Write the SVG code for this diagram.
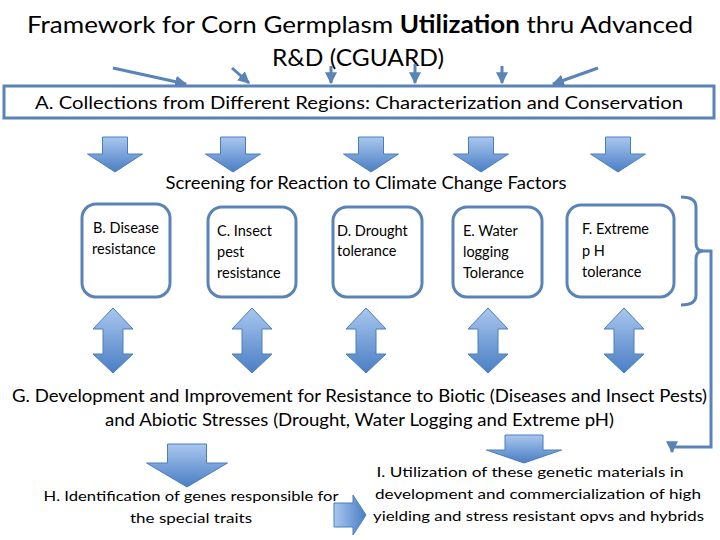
<svg xmlns="http://www.w3.org/2000/svg" width="720" height="540" viewBox="0 0 720 540">
<defs>
<linearGradient id="g" x1="0" y1="0" x2="0" y2="1">
<stop offset="0" stop-color="#a9c7ef"/>
<stop offset="1" stop-color="#4a7ec4"/>
</linearGradient>
<linearGradient id="gh" x1="0" y1="0" x2="1" y2="0">
<stop offset="0" stop-color="#a9c7ef"/>
<stop offset="1" stop-color="#4a7ec4"/>
</linearGradient>
<marker id="ah" viewBox="0 0 10 10" refX="9" refY="5" markerWidth="4" markerHeight="4" orient="auto" markerUnits="strokeWidth">
<path d="M0,0 L10,5 L0,10 Z" fill="#5a83b8"/>
</marker>
<path id="down" d="M-12.5,137 L12.5,137 L12.5,154 L27.5,154 L0,172 L-27.5,154 L-12.5,154 Z"/>
<path id="dbl" d="M0,308 L20,329 L10,329 L10,354 L20,354 L0,373 L-20,354 L-10,354 L-10,329 L-20,329 Z"/>
</defs>
<style>
text{font-family:Lato,"Open Sans","Liberation Sans",sans-serif;fill:#000}
.t{font-size:24px}
.a{font-size:18px}
.n{font-size:14.5px}
.g{font-size:17px}
.b{font-size:14px}
.box{fill:#fff;stroke:#5a83b8;stroke-width:3}
.con{fill:none;stroke:#5a83b8;stroke-width:3}
.blk{fill:url(#g);stroke:#4a7ebb;stroke-width:1}
</style>
<rect width="720" height="540" fill="#fff"/>

<g id="title">
<text class="t" x="360" y="33" text-anchor="middle" textLength="666" lengthAdjust="spacingAndGlyphs">Framework for Corn Germplasm <tspan font-weight="bold">Utilization</tspan> thru Advanced</text>
<text class="t" x="358" y="66" text-anchor="middle" textLength="172" lengthAdjust="spacingAndGlyphs">R&amp;D (CGUARD)</text>
</g>

<g id="connectors">
<line class="con" x1="113" y1="68" x2="186" y2="84" marker-end="url(#ah)"/>
<line class="con" x1="232" y1="68" x2="249" y2="83" marker-end="url(#ah)"/>
<line class="con" x1="331" y1="66" x2="331" y2="83" marker-end="url(#ah)"/>
<line class="con" x1="415" y1="64" x2="415" y2="83" marker-end="url(#ah)"/>
<line class="con" x1="502" y1="66" x2="502" y2="83" marker-end="url(#ah)"/>
<line class="con" x1="598" y1="68" x2="553" y2="84" marker-end="url(#ah)"/>
<path class="con" d="M681,197 Q696,197 696,207 L696,243 Q696,251 703,251 Q696,251 696,259 L696,295 Q696,305 681,305"/>
<path class="con" d="M699,251 L711,251 L711,447 L672,447 L672,452" marker-end="url(#ah)"/>
</g>

<g id="nodeA">
<rect class="box" x="4" y="86" width="710" height="32"/>
<text class="a" x="359" y="109" text-anchor="middle" textLength="648" lengthAdjust="spacingAndGlyphs">A. Collections from Different Regions: Characterization and Conservation</text>
</g>

<g id="downArrows">
<use href="#down" class="blk" x="115"/>
<use href="#down" class="blk" x="233"/>
<use href="#down" class="blk" x="371"/>
<use href="#down" class="blk" x="481"/>
<use href="#down" class="blk" x="618"/>
</g>

<g id="screening">
<text class="g" x="366" y="189" text-anchor="middle" textLength="401" lengthAdjust="spacingAndGlyphs">Screening for Reaction to Climate Change Factors</text>
</g>

<g id="nodeB">
<rect class="box" x="82" y="204" width="88" height="93" rx="14"/>
<text class="n" x="93" y="233">B. Disease</text>
<text class="n" x="92" y="254">resistance</text>
</g>
<g id="nodeC">
<rect class="box" x="208" y="207" width="88" height="90" rx="14"/>
<text class="n" x="217" y="236">C. Insect</text>
<text class="n" x="217" y="257">pest</text>
<text class="n" x="217" y="278">resistance</text>
</g>
<g id="nodeD">
<rect class="box" x="333" y="207" width="89" height="90" rx="14"/>
<text class="n" x="337" y="236">D. Drought</text>
<text class="n" x="337" y="256">tolerance</text>
</g>
<g id="nodeE">
<rect class="box" x="453" y="207" width="89" height="90" rx="14"/>
<text class="n" x="463" y="236">E. Water</text>
<text class="n" x="463" y="257">logging</text>
<text class="n" x="463" y="278">Tolerance</text>
</g>
<g id="nodeF">
<rect class="box" x="567" y="205" width="107" height="92" rx="14"/>
<text class="n" x="582" y="234">F. Extreme</text>
<text class="n" x="582" y="256">p H</text>
<text class="n" x="582" y="277">tolerance</text>
</g>

<g id="doubleArrows">
<use href="#dbl" class="blk" x="113"/>
<use href="#dbl" class="blk" x="252"/>
<use href="#dbl" class="blk" x="366"/>
<use href="#dbl" class="blk" x="488"/>
<use href="#dbl" class="blk" x="624"/>
</g>

<g id="nodeG">
<text class="a" x="359.5" y="402" text-anchor="middle" textLength="695" lengthAdjust="spacingAndGlyphs">G. Development and Improvement for Resistance to Biotic (Diseases and Insect Pests)</text>
<text class="a" x="359.5" y="426" text-anchor="middle" textLength="509" lengthAdjust="spacingAndGlyphs">and Abiotic Stresses (Drought, Water Logging and Extreme pH)</text>
</g>

<g id="bottomArrows">
<path class="blk" d="M167.5,444 L206.5,444 L206.5,463 L227.5,463 L187,487 L146.5,463 L167.5,463 Z"/>
<path class="blk" d="M505,435 L543,435 L543,450 L561.5,450 L524,463 L486.5,450 L505,450 Z"/>
<path fill="url(#gh)" stroke="#4a7ebb" stroke-width="1" d="M334,503 L353,503 L353,495 L366,515 L353,535 L353,527 L334,527 Z"/>
</g>

<g id="nodeH">
<text class="b" x="191" y="501" text-anchor="middle" textLength="295" lengthAdjust="spacingAndGlyphs">H. Identification of genes responsible for</text>
<text class="b" x="191" y="523" text-anchor="middle" textLength="122" lengthAdjust="spacingAndGlyphs">the special traits</text>
</g>

<g id="nodeI">
<text class="b" x="530" y="477" text-anchor="middle" textLength="307" lengthAdjust="spacingAndGlyphs">I. Utilization of these genetic materials in</text>
<text class="b" x="538" y="499" text-anchor="middle" textLength="326" lengthAdjust="spacingAndGlyphs">development and commercialization  of high</text>
<text class="b" x="538.5" y="521" text-anchor="middle" textLength="331" lengthAdjust="spacingAndGlyphs">yielding and stress resistant opvs and hybrids</text>
</g>
</svg>
